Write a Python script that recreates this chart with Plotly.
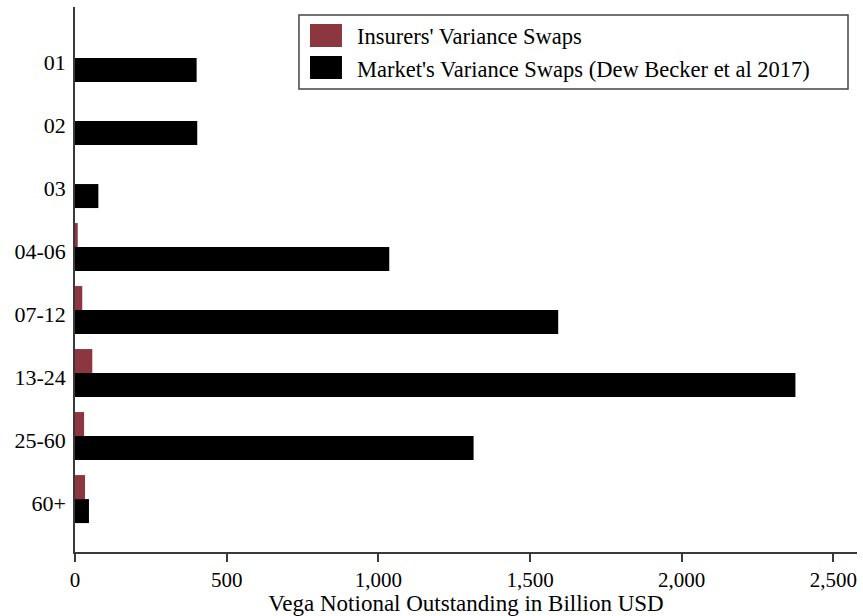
import plotly.graph_objects as go

# Maturity buckets (months), top to bottom
buckets = ["01", "02", "03", "04-06", "07-12", "13-24", "25-60", "60+"]

# Vega notional outstanding, billion USD
insurers = [0, 0, 0, 9, 24, 57, 30, 33]
market = [401, 403, 77, 1036, 1593, 2375, 1314, 46]

insurers_name = "Insurers' Variance Swaps"
market_name = "Market's Variance Swaps (Dew Becker et al 2017)"

x_ticks = [0, 500, 1000, 1500, 2000, 2500]
x_tick_text = ["0", "500", "1,000", "1,500", "2,000", "2,500"]

RED = "#8C3640"
BLACK = "#000000"
AXIS = "#3a3a3a"
FONT = "Liberation Serif"

fig = go.Figure()
fig.add_trace(go.Bar(
    y=buckets, x=insurers, orientation="h", name=insurers_name,
    marker=dict(color=RED, line=dict(width=0)),
    showlegend=False,
))
fig.add_trace(go.Bar(
    y=buckets, x=market, orientation="h", name=market_name,
    marker=dict(color=BLACK, line=dict(width=0)),
    showlegend=False,
))

# Boxed legend drawn in paper coordinates
shapes = [
    dict(type="rect", xref="paper", yref="paper",
         x0=0.2864, x1=0.9885, y0=0.8495, y1=0.9853,
         line=dict(color="#444444", width=1.5), fillcolor="white", layer="below"),
    dict(type="rect", xref="paper", yref="paper",
         x0=0.3005, x1=0.3414, y0=0.9266, y1=0.9688,
         line=dict(width=0), fillcolor=RED),
    dict(type="rect", xref="paper", yref="paper",
         x0=0.3005, x1=0.3414, y0=0.8679, y1=0.9101,
         line=dict(width=0), fillcolor=BLACK),
]
annotations = [
    dict(text=insurers_name, xref="paper", yref="paper", x=0.3580, y=0.9450,
         xanchor="left", yanchor="middle", showarrow=False,
         font=dict(family=FONT, size=22.5, color="black")),
    dict(text=market_name, xref="paper", yref="paper", x=0.3580, y=0.8860,
         xanchor="left", yanchor="middle", showarrow=False,
         font=dict(family=FONT, size=22.5, color="black")),
]

fig.update_layout(
    width=863, height=616,
    margin=dict(l=75, r=6, t=7, b=64),
    paper_bgcolor="white", plot_bgcolor="white",
    barmode="group", bargap=0.238, bargroupgap=0,
    font=dict(family=FONT, size=21, color="black"),
    shapes=shapes, annotations=annotations,
    xaxis=dict(
        range=[0, 2578], tickvals=x_ticks, ticktext=x_tick_text,
        showgrid=False, zeroline=False,
        showline=True, linecolor=AXIS, linewidth=1.5,
        ticks="outside", ticklen=8, tickwidth=1.5, tickcolor=AXIS,
        tickfont=dict(family=FONT, size=21, color="black"),
        title=dict(text="Vega Notional Outstanding in Billion USD",
                   font=dict(family=FONT, size=23, color="black"), standoff=0),
    ),
    yaxis=dict(
        categoryorder="array", categoryarray=buckets,
        range=[7.84, -0.81],
        showgrid=False, zeroline=False,
        showline=True, linecolor=AXIS, linewidth=1.5,
        ticks="", ticklabelstandoff=3, ticklabelshift=-4,
        tickfont=dict(family=FONT, size=22, color="black"),
    ),
)

fig.write_html("out.html")
